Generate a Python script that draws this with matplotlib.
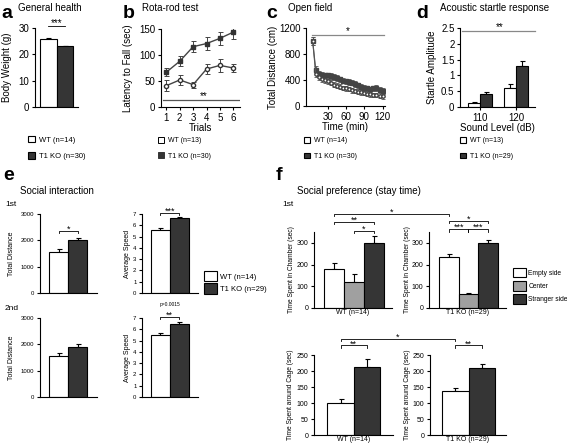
import matplotlib
matplotlib.use('Agg')
import matplotlib.pyplot as plt
from matplotlib.patches import Patch
from matplotlib.lines import Line2D

plt.rcParams['font.family'] = ['Liberation Sans', 'DejaVu Sans']

# ---------------- data ----------------
groups = ['WT', 'T1 KO']
body_weight = [25.8, 23.0]
body_weight_err = [0.5, 0.3]

trials = [1, 2, 3, 4, 5, 6]
rota_wt = [41, 52, 43, 73, 80, 75]
rota_wt_err = [10, 10, 6, 10, 13, 7]
rota_ko = [67, 88, 116, 122, 132, 144]
rota_ko_err = [8, 10, 11, 12, 13, 13]

of_time = [5, 10, 15, 20, 25, 30, 35, 40, 45, 50, 55, 60,
           65, 70, 75, 80, 85, 90, 95, 100, 105, 110, 115, 120]
of_ko = [1000, 560, 500, 480, 470, 470, 460, 450, 430, 410, 390, 380,
         370, 360, 340, 320, 300, 280, 270, 260, 270, 280, 250, 230]
of_ko_err = [60, 50, 45, 45, 45, 45, 45, 45, 40, 40, 40, 40,
             40, 40, 40, 40, 40, 40, 40, 40, 40, 45, 40, 40]
of_wt = [1000, 500, 440, 420, 400, 380, 360, 330, 310, 300, 280, 270,
         260, 240, 230, 220, 210, 200, 190, 180, 170, 170, 160, 150]
of_wt_err = [60, 50, 45, 45, 40, 40, 40, 40, 40, 35, 35, 35,
             35, 35, 35, 35, 35, 35, 35, 35, 35, 35, 35, 35]

sound_levels = ['110', '120']
startle_wt = [0.12, 0.60]
startle_wt_err = [0.03, 0.12]
startle_ko = [0.42, 1.30]
startle_ko_err = [0.07, 0.15]

si_dist_1st = [1550, 2000]
si_dist_1st_err = [120, 90]
si_speed_1st = [5.55, 6.65]
si_speed_1st_err = [0.2, 0.12]
si_dist_2nd = [1560, 1900]
si_dist_2nd_err = [110, 100]
si_speed_2nd = [5.5, 6.5]
si_speed_2nd_err = [0.15, 0.15]

pref_cats = ['Empty side', 'Center', 'Stranger side']
chamber_wt = [180, 118, 300]
chamber_wt_err = [25, 38, 30]
chamber_ko = [235, 65, 298]
chamber_ko_err = [13, 5, 13]
cage_cats = ['Empty side', 'Stranger side']
cage_wt = [100, 212]
cage_wt_err = [13, 25]
cage_ko = [137, 210]
cage_ko_err = [10, 12]

# ---------------- style ----------------
W, H = 567, 446
fig = plt.figure(figsize=(W / 100, H / 100), dpi=100)
DARK = '#353535'
GREY = '#a0a0a0'
LW = 0.8


def add_ax(l, t, r, b):
    return fig.add_axes([l / W, 1 - b / H, (r - l) / W, (b - t) / H])


def style(ax, fs):
    for s in ['top', 'right']:
        ax.spines[s].set_visible(False)
    for s in ['left', 'bottom']:
        ax.spines[s].set_linewidth(LW)
    ax.tick_params(axis='both', labelsize=fs, width=LW, length=2.5, pad=1.5)


def bars(ax, xs, vals, errs, colors, width):
    ax.bar(xs, vals, width=width, color=colors, edgecolor='black', linewidth=LW, zorder=2)
    ax.errorbar(xs, vals, yerr=[[0] * len(vals), errs], fmt='none', ecolor='black',
                elinewidth=LW, capsize=1.8, capthick=LW, zorder=1)


def bracket(ax, x1, x2, y, txt, tick, fs=7, dy=0):
    ax.plot([x1, x1, x2, x2], [y - tick, y, y, y - tick], color='black', lw=0.6,
            clip_on=False)
    ax.text((x1 + x2) / 2, y + dy, txt, ha='center', va='bottom', fontsize=fs, clip_on=False)


def letter(x, y, s):
    fig.text(x / W, 1 - y / H, s, fontsize=14, fontweight='bold', va='center', ha='left')


def title(x, y, s, fs=7):
    fig.text(x / W, 1 - y / H, s, fontsize=fs, va='center', ha='left')


def small_legend(x, y, handles, labels, fs=5.5, hl=0.9, hh=0.9, sp=0.6, tp=0.6):
    fig.legend(handles, labels, loc='upper left', bbox_to_anchor=(x / W, 1 - y / H),
               frameon=False, fontsize=fs, handlelength=hl, handleheight=hh,
               labelspacing=sp, borderpad=0, handletextpad=tp, borderaxespad=0)


def ylab(ax, s, fs, xc):
    ax.set_ylabel(s, fontsize=fs)
    ax.yaxis.set_label_coords(xc, 0.5)


wt_patch = Patch(facecolor='white', edgecolor='black', linewidth=LW)
ko_patch = Patch(facecolor=DARK, edgecolor='black', linewidth=LW)
ce_patch = Patch(facecolor=GREY, edgecolor='black', linewidth=LW)

# ---------------- panel a ----------------
letter(1, 13, 'a')
title(18, 8, 'General health')
ax = add_ax(35, 28, 78, 107)
style(ax, 7)
bars(ax, [0, 1], body_weight, body_weight_err, ['white', DARK], 1.0)
ax.set_xlim(-0.8, 1.8)
ax.set_ylim(0, 30)
ax.set_yticks([0, 10, 20, 30])
ax.set_xticks([])
ylab(ax, 'Body Weight (g)', 7, -0.53)
bracket(ax, 0, 1, 30.8, '***', 0, fs=7, dy=-0.8)
small_legend(28, 136, [wt_patch, ko_patch], ['WT (n=14)', 'T1 KO (n=30)'], fs=5.5, sp=1.1)

# ---------------- panel b ----------------
letter(123, 13, 'b')
title(142, 8, 'Rota-rod test')
ax = add_ax(161, 29, 240, 107)
style(ax, 7)
ax.errorbar(trials, rota_ko, yerr=rota_ko_err, color='#444444', lw=1.0, marker='s',
            ms=3, mfc='#333333', mec='#333333', ecolor='#444444', elinewidth=0.7,
            capsize=1.8, capthick=0.7)
ax.errorbar(trials, rota_wt, yerr=rota_wt_err, color='#444444', lw=1.0, marker='o',
            ms=3, mfc='white', mec='#333333', ecolor='#444444', elinewidth=0.7,
            capsize=1.8, capthick=0.7)
ax.set_xlim(0.6, 6.5)
ax.set_ylim(0, 150)
ax.set_yticks([0, 50, 100, 150])
ax.set_xticks(trials)
ax.set_xlabel('Trials', fontsize=7, labelpad=0)
ylab(ax, 'Latency to Fall (sec)', 7, -0.35)
ax.plot([0.75, 6.4], [14, 14], color='#555555', lw=0.9)
ax.text(3.8, 12, '**', ha='center', va='bottom', fontsize=7)
wt_sq = Line2D([], [], marker='s', ls='none', mfc='white', mec='black', ms=5, mew=0.7)
ko_sq = Line2D([], [], marker='s', ls='none', mfc=DARK, mec=DARK, ms=5, mew=0.7)
small_legend(158, 137, [wt_sq, ko_sq], ['WT (n=13)', 'T1 KO (n=30)'], fs=5, sp=1.2)

# ---------------- panel c ----------------
letter(266, 13, 'c')
title(288, 8, 'Open field')
ax = add_ax(306, 28, 385, 106)
style(ax, 7)
ax.errorbar(of_time, of_ko, yerr=of_ko_err, color='#555555', lw=0.8, marker='s',
            ms=2.2, mfc='#444444', mec='#444444', ecolor='#555555', elinewidth=0.6,
            capsize=1.2, capthick=0.6)
ax.errorbar(of_time, of_wt, yerr=of_wt_err, color='#555555', lw=0.8, marker='o',
            ms=2.4, mfc='white', mec='#444444', ecolor='#555555', elinewidth=0.6,
            capsize=1.2, capthick=0.6)
ax.set_xlim(-6, 124)
ax.set_ylim(0, 1200)
ax.set_yticks([0, 400, 800, 1200])
ax.set_xticks([30, 60, 90, 120])
ax.set_xlabel('Time (min)', fontsize=7, labelpad=0)
ylab(ax, 'Total Distance (cm)', 7, -0.35)
ax.plot([4, 122], [1100, 1100], color='#888888', lw=0.9, clip_on=False)
ax.text(63, 1080, '*', ha='center', va='bottom', fontsize=7)
small_legend(304, 137, [wt_patch, ko_patch], ['WT (n=14)', 'T1 KO (n=30)'], fs=5, sp=1.2)

# ---------------- panel d ----------------
letter(416, 13, 'd')
title(440, 8, 'Acoustic startle response')
ax = add_ax(460, 28, 535, 107)
style(ax, 7)
bw = 0.33
bars(ax, [-bw / 2, 1 - bw / 2], startle_wt, startle_wt_err, ['white', 'white'], bw)
bars(ax, [bw / 2, 1 + bw / 2], startle_ko, startle_ko_err, [DARK, DARK], bw)
ax.set_xlim(-0.55, 1.53)
ax.set_ylim(0, 2.5)
ax.set_yticks([0, 0.5, 1, 1.5, 2, 2.5])
ax.set_yticklabels(['0', '0.5', '1', '1.5', '2', '2.5'])
ax.set_xticks([0, 1])
ax.set_xticklabels(sound_levels)
ax.set_xlabel('Sound Level (dB)', fontsize=7, labelpad=0)
ylab(ax, 'Startle Amplitude', 7, -0.31)
ax.plot([-0.5, 1.53], [2.42, 2.42], color='#888888', lw=0.9, clip_on=False)
ax.text(0.55, 2.38, '**', ha='center', va='bottom', fontsize=7)
small_legend(460, 137, [wt_patch, ko_patch], ['WT (n=13)', 'T1 KO (n=29)'], fs=5, sp=1.2)

# ---------------- panel e ----------------
letter(3, 176, 'e')
title(20, 191, 'Social interaction')
fig.text(5 / W, 1 - 204 / H, '1st', fontsize=6, va='center')
fig.text(5 / W, 1 - 308 / H, '2nd', fontsize=6, va='center')

e_specs = [
    ((40, 214, 97, 293), si_dist_1st, si_dist_1st_err, 'dist', '*', 2350),
    ((142, 214, 198, 293), si_speed_1st, si_speed_1st_err, 'speed', '***', 7.1),
    ((40, 318, 97, 397), si_dist_2nd, si_dist_2nd_err, 'dist', None, None),
    ((142, 318, 198, 397), si_speed_2nd, si_speed_2nd_err, 'speed', '**', 7.05),
]
for box, vals, errs, kind, sig, sy in e_specs:
    ax = add_ax(*box)
    style(ax, 4.3)
    bars(ax, [0, 1], vals, errs, ['white', DARK], 1.0)
    ax.set_xlim(-0.97, 2.0)
    ax.set_xticks([])
    if kind == 'dist':
        ax.set_ylim(0, 3000)
        ax.set_yticks([0, 1000, 2000, 3000])
        ylab(ax, 'Total Distance', 5, -0.44)
        tk = 80
    else:
        ax.set_ylim(0, 7)
        ax.set_yticks(range(8))
        ylab(ax, 'Average Speed', 5, -0.2)
        tk = 0.18
    if sig:
        bracket(ax, 0, 1, sy, sig, tk, fs=6.5, dy=-tk * 1.2)
    if box[0] == 142 and box[1] == 214:
        ax.text(0.5, -0.12, 'p=0.0015', transform=ax.transAxes, ha='center',
                va='top', fontsize=3.5)

small_legend(204, 271, [wt_patch, ko_patch], ['WT (n=14)', 'T1 KO (n=29)'], fs=5.5,
             hl=1.7, hh=1.7, sp=0.25, tp=0.4)

# ---------------- panel f ----------------
letter(276, 176, 'f')
title(297, 191, 'Social preference (stay time)')
fig.text(282 / W, 1 - 204 / H, '1st', fontsize=6, va='center')

colors3 = ['white', GREY, DARK]
f1 = add_ax(314, 232, 392, 308)
f2 = add_ax(429, 232, 506, 308)
for ax, vals, errs, lab, xc in [(f1, chamber_wt, chamber_wt_err, 'WT (n=14)', -0.24),
                                (f2, chamber_ko, chamber_ko_err, 'T1 KO (n=29)', -0.24)]:
    style(ax, 5)
    bars(ax, [0, 1, 2], vals, errs, colors3, 1.0)
    ax.set_xlim(-1.0, 2.9)
    ax.set_ylim(0, 350)
    ax.set_yticks([0, 100, 200, 300])
    ax.set_xticks([])
    ax.set_xlabel(lab, fontsize=5, labelpad=1)
    ylab(ax, 'Time Spent in Chamber (sec)', 4.8, xc)

f3 = add_ax(314, 355, 393, 435)
f4 = add_ax(430, 355, 506, 435)
for ax, vals, errs, lab, lo, hi, xc in [
        (f3, cage_wt, cage_wt_err, 'WT (n=14)', -1.0, 1.98, -0.25),
        (f4, cage_ko, cage_ko_err, 'T1 KO (n=29)', -0.93, 1.89, -0.25)]:
    style(ax, 5)
    bars(ax, [0, 1], vals, errs, ['white', DARK], 1.0)
    ax.set_xlim(lo, hi)
    ax.set_ylim(0, 250)
    ax.set_yticks([0, 50, 100, 150, 200, 250])
    ax.set_xticks([])
    ax.set_xlabel(lab, fontsize=5, labelpad=1)
    ylab(ax, 'Time Spent around Cage (sec)', 4.8, xc)


def x_in(src, dst, x):
    disp = dst.transData.transform((x, 0))
    return src.transData.inverted().transform(disp)[0]


tk = 10
bracket(f1, 0, x_in(f1, f2, 0), 435, '*', tk, fs=6.5, dy=-tk * 1.3)
bracket(f1, 0, 2, 395, '**', tk, fs=6.5, dy=-tk * 1.3)
bracket(f1, 1, 2, 355, '*', tk, fs=6.5, dy=-tk * 1.3)
bracket(f2, 0, 2, 402, '*', tk, fs=6.5, dy=-tk * 1.3)
bracket(f2, 0, 1, 362, '***', tk, fs=6.5, dy=-tk * 1.3)
bracket(f2, 1, 2, 362, '***', tk, fs=6.5, dy=-tk * 1.3)

tk2 = 7
bracket(f3, 0, x_in(f3, f4, 0), 300, '*', tk2, fs=6.5, dy=-tk2 * 1.3)
bracket(f3, 0, 1, 280, '**', tk2, fs=6.5, dy=-tk2 * 1.3)
bracket(f4, 0, 1, 280, '**', tk2, fs=6.5, dy=-tk2 * 1.3)

small_legend(513, 268, [wt_patch, ce_patch, ko_patch], pref_cats, fs=4.8,
             hl=1.9, hh=1.8, sp=0.55, tp=0.4)

fig.savefig('out.png', dpi=100)
